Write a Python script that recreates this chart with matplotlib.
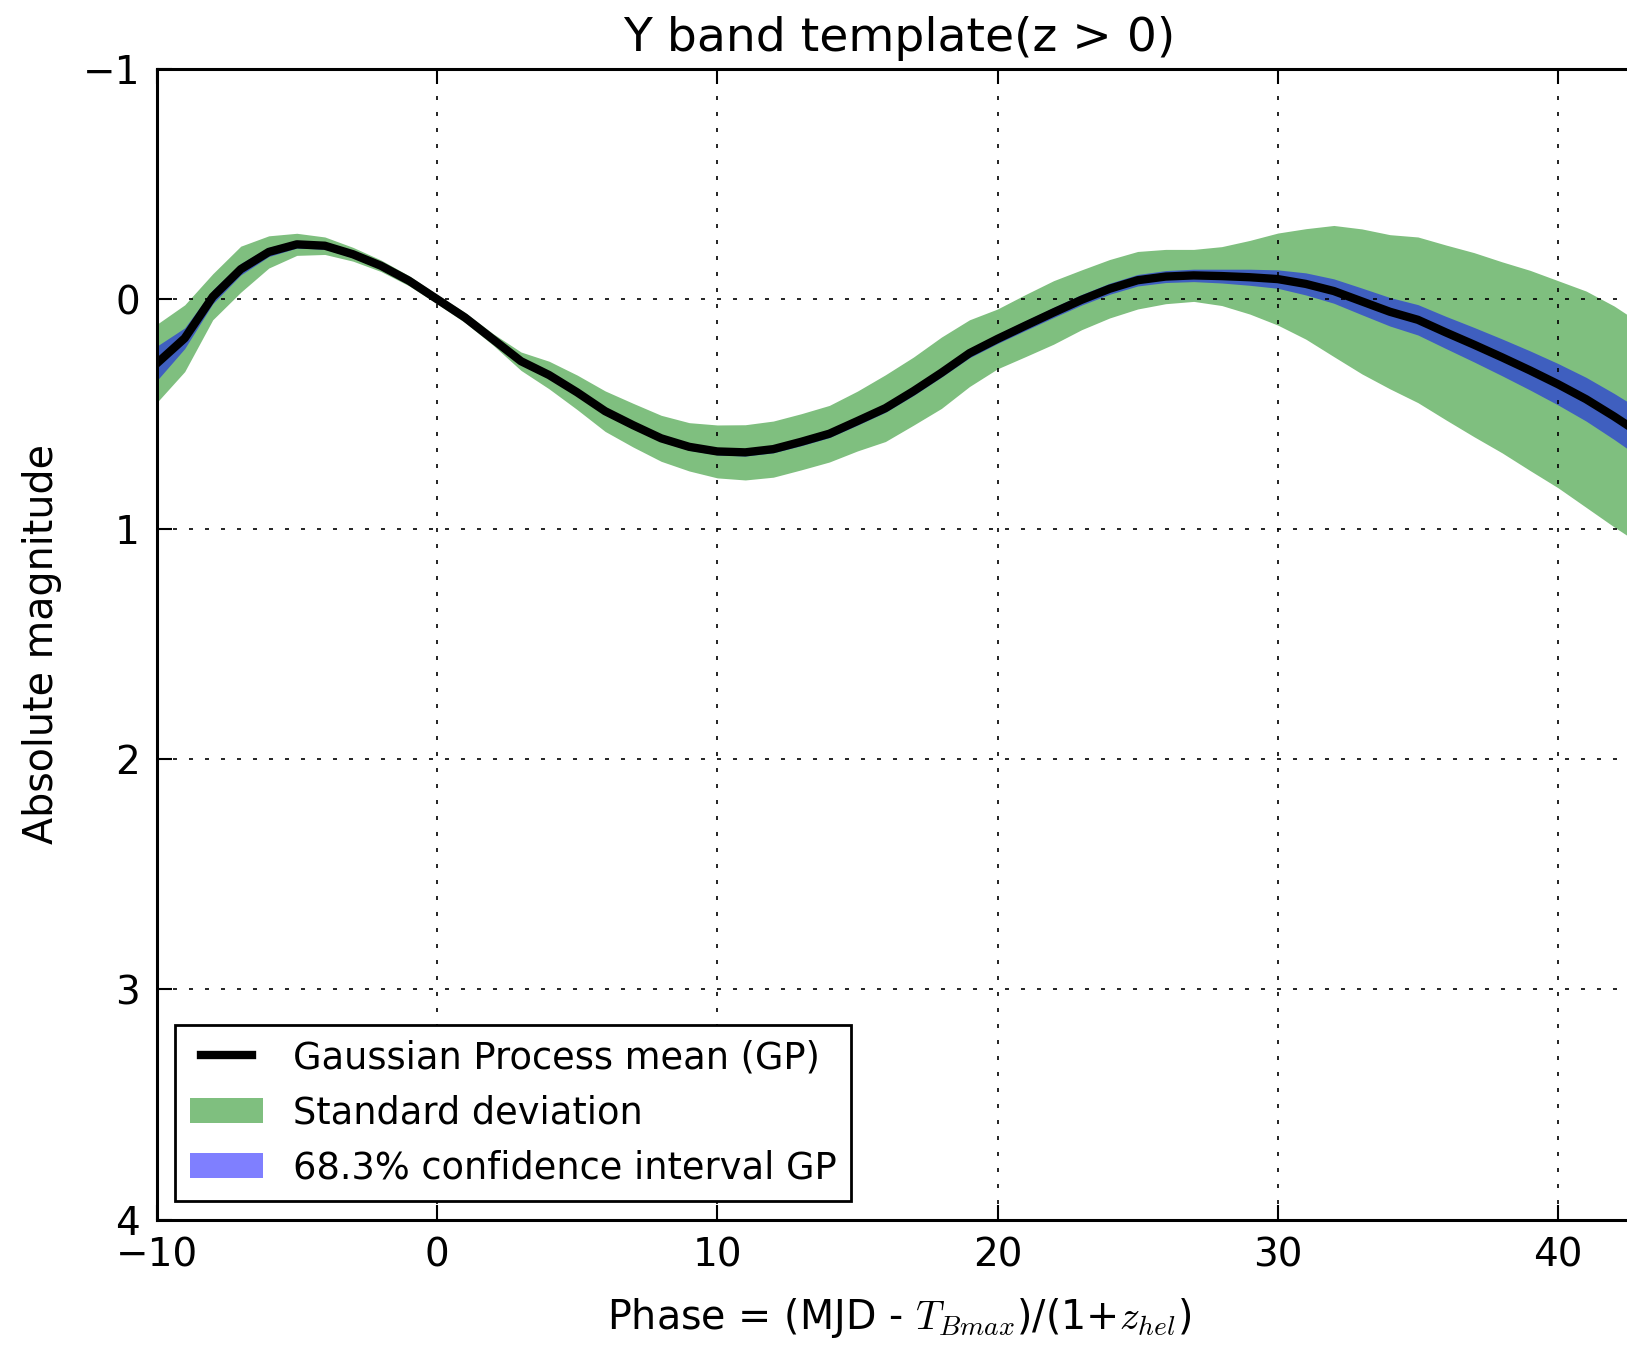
import matplotlib
matplotlib.use("Agg")
import matplotlib.pyplot as plt

# GP template of the Y band light curve (z > 0), sampled once per day of phase
phase = [-10, -9, -8, -7, -6, -5, -4, -3, -2, -1, 0, 1, 2, 3, 4, 5, 6, 7, 8,
         9, 10, 11, 12, 13, 14, 15, 16, 17, 18, 19, 20, 21, 22, 23, 24, 25,
         26, 27, 28, 29, 30, 31, 32, 33, 34, 35, 36, 37, 38, 39, 40, 41, 42, 43]

gp_mean = [0.28, 0.17, -0.01, -0.13, -0.205, -0.238, -0.232, -0.195, -0.145,
           -0.08, 0.0, 0.08, 0.175, 0.27, 0.33, 0.405, 0.487, 0.548, 0.605,
           0.642, 0.662, 0.666, 0.652, 0.62, 0.585, 0.53, 0.474, 0.40, 0.32,
           0.235, 0.173, 0.115, 0.058, 0.003, -0.045, -0.082, -0.098, -0.103,
           -0.1, -0.095, -0.087, -0.066, -0.035, 0.01, 0.055, 0.09, 0.145,
           0.198, 0.253, 0.31, 0.37, 0.435, 0.51, 0.59]

# half-width of the standard deviation band
std_dev = [0.17, 0.145, 0.1, 0.1, 0.07, 0.048, 0.038, 0.03, 0.025, 0.022,
           0.02, 0.022, 0.025, 0.04, 0.06, 0.075, 0.088, 0.095, 0.1, 0.105,
           0.115, 0.12, 0.122, 0.122, 0.123, 0.13, 0.145, 0.148, 0.155, 0.145,
           0.13, 0.135, 0.138, 0.13, 0.127, 0.125, 0.118, 0.113, 0.128, 0.16,
           0.2, 0.24, 0.285, 0.315, 0.335, 0.36, 0.38, 0.4, 0.415, 0.435, 0.45,
           0.47, 0.48, 0.48]

# half-width of the 68.3% GP confidence interval
ci_683 = [0.075, 0.045, 0.03, 0.025, 0.02, 0.016, 0.015, 0.015, 0.015, 0.015,
          0.015, 0.015, 0.015, 0.015, 0.015, 0.015, 0.015, 0.015, 0.015, 0.015,
          0.015, 0.016, 0.016, 0.017, 0.017, 0.018, 0.018, 0.019, 0.019, 0.02,
          0.02, 0.021, 0.022, 0.023, 0.024, 0.025, 0.026, 0.027, 0.03, 0.035,
          0.04, 0.048, 0.053, 0.058, 0.062, 0.066, 0.07, 0.075, 0.08, 0.085,
          0.09, 0.095, 0.1, 0.105]

plt.rcParams["font.family"] = "DejaVu Sans"
plt.rcParams["mathtext.fontset"] = "cm"

fig = plt.figure(figsize=(16.27, 13.45), dpi=100)
ax = fig.add_axes([0.0963, 0.0933, 0.913, 0.8554])

sd_lo = [m - s for m, s in zip(gp_mean, std_dev)]
sd_hi = [m + s for m, s in zip(gp_mean, std_dev)]
ci_lo = [m - c for m, c in zip(gp_mean, ci_683)]
ci_hi = [m + c for m, c in zip(gp_mean, ci_683)]

ax.fill_between(phase, sd_lo, sd_hi, color="green", alpha=0.5, lw=0,
                label="Standard deviation")
ax.fill_between(phase, ci_lo, ci_hi, color="blue", alpha=0.5, lw=0,
                label="68.3% confidence interval GP")
ax.plot(phase, gp_mean, color="black", lw=6,
        label="Gaussian Process mean (GP)")

ax.set_xlim(-10, 43)
ax.set_ylim(4, -1)
ax.set_xticks([-10, 0, 10, 20, 30, 40])
ax.set_yticks([-1, 0, 1, 2, 3, 4])

ax.grid(True, color="black", linestyle=(0, (2.4, 7.2)), lw=1.2)
for sp in ax.spines.values():
    sp.set_linewidth(2.2)
ax.tick_params(direction="in", length=11, width=1.5, labelsize=28, pad=12,
               top=True, right=True)

ax.set_title("Y band template(z > 0)", fontsize=34, pad=13)
ax.set_xlabel(r"Phase = (MJD - $T_{Bmax}$)/(1+$z_{hel}$)", fontsize=28.5,
              labelpad=16)
ax.set_ylabel("Absolute magnitude", fontsize=28.5, labelpad=15)

handles, labels = ax.get_legend_handles_labels()
order = [2, 0, 1]
leg = ax.legend([handles[i] for i in order], [labels[i] for i in order],
                loc="lower left", fontsize=26.5, fancybox=False,
                framealpha=1, edgecolor="black", handletextpad=0.8,
                labelspacing=0.49, borderaxespad=0.5, numpoints=2)
leg.get_frame().set_linewidth(2)

fig.savefig("out.png", dpi=100)
